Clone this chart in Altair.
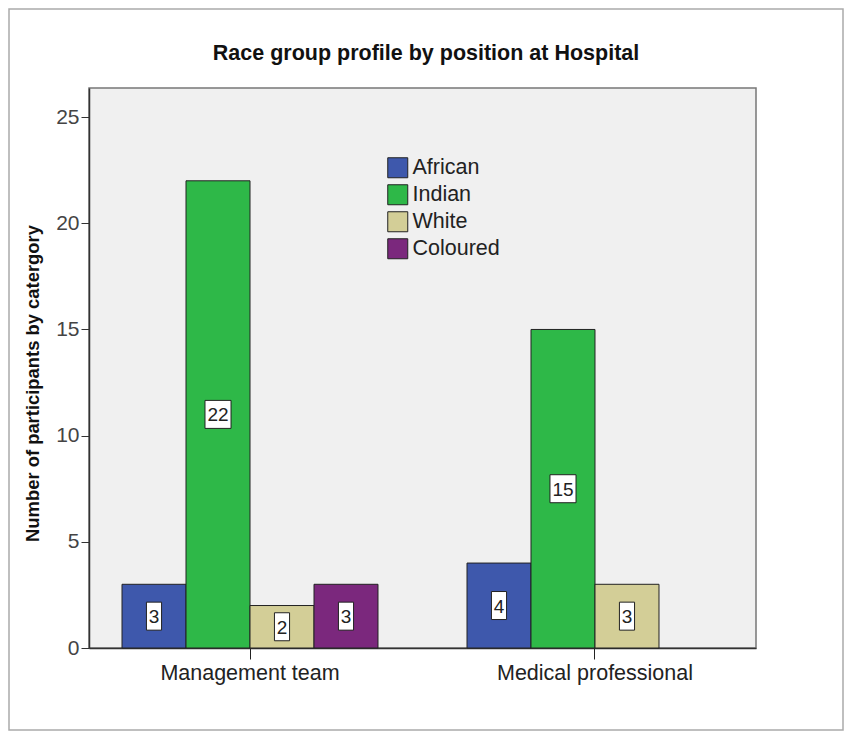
import altair as alt
import pandas as pd

title_text = "Race group profile by position at Hospital"
races = ["African", "Indian", "White", "Coloured"]
race_colors = ["#3E58AC", "#2EB848", "#D3CE97", "#7B287D"]
positions = ["Management team", "Medical professional"]
management_counts = [3, 22, 2, 3]
medical_counts = [4, 15, 3, None]

rows = []
for pos, counts in zip(positions, [management_counts, medical_counts]):
    for r, c in zip(races, counts):
        if c is not None:
            rows.append({"position": pos, "race": r, "count": c})
df = pd.DataFrame(rows)

FONT = "Liberation Sans"
W, H = 667, 560
Y_MAX = 26.37

x_enc = alt.X("position:N", sort=positions,
              scale=alt.Scale(paddingInner=0.258, paddingOuter=0.0957),
              axis=alt.Axis(title=None, labelAngle=0, labelFontSize=21.5,
                            labelColor="#222", labelFont=FONT, tickSize=11,
                            tickColor="#222", domainColor="#333", domainWidth=1.5,
                            labelPadding=3, labelLimit=400))
xoff = alt.XOffset("race:N", sort=races,
                   scale=alt.Scale(domain=races, paddingInner=0, paddingOuter=0))
y_enc = alt.Y("count:Q", scale=alt.Scale(domain=[0, Y_MAX], nice=False, zero=True),
              axis=alt.Axis(values=[0, 5, 10, 15, 20, 25], grid=False,
                            title="Number of participants by catergory",
                            titleFont=FONT, titleFontSize=18.4, titleFontWeight="bold",
                            titleColor="#111", titleAngle=-90, titleX=-57, titleY=295,
                            titleAlign="center", titleBaseline="middle",
                            labelFontSize=21, labelColor="#444", labelFont=FONT,
                            tickSize=8, tickColor="#333", labelPadding=2,
                            domainColor="#333", domainWidth=1.5))

bars = alt.Chart(df).mark_bar(stroke="#222", strokeWidth=1, opacity=1).encode(
    x=x_enc, xOffset=xoff, y=y_enc,
    color=alt.Color("race:N", sort=races,
                    scale=alt.Scale(domain=races, range=race_colors),
                    legend=alt.Legend(title=None, orient="none", legendX=298, legendY=69,
                                      symbolType="square", symbolSize=400,
                                      symbolStrokeColor="#222", symbolStrokeWidth=1,
                                      symbolOpacity=1, labelFontSize=21.5, labelFont=FONT,
                                      labelColor="#222", rowPadding=2, labelOffset=4)),
)

single = "M-0.54,-1L0.54,-1L0.54,1L-0.54,1Z"
double = "M-0.93,-1L0.93,-1L0.93,1L-0.93,1Z"

boxes = alt.Chart(df).transform_calculate(
    mid="datum.count / 2",
    box=f"datum.count >= 10 ? '{double}' : '{single}'"
).mark_point(filled=True, fill="white", stroke="#222", strokeWidth=1, opacity=1,
             size=784).encode(
    x=alt.X("position:N", sort=positions), xOffset=xoff,
    y=alt.Y("mid:Q"),
    shape=alt.Shape("box:N", scale=None),
)

texts = alt.Chart(df).transform_calculate(
    mid="datum.count / 2"
).mark_text(fontSize=19, font=FONT, color="#222", baseline="middle", dy=1).encode(
    x=alt.X("position:N", sort=positions), xOffset=xoff,
    y=alt.Y("mid:Q"),
    text=alt.Text("count:Q"),
)

one = pd.DataFrame({"f": [0]})
frame = alt.Chart(one).mark_rect(
    fill=None, stroke="#aaa", strokeWidth=1.5
).encode(x=alt.value(-80), x2=alt.value(754), y=alt.value(-79), y2=alt.value(642))

title = alt.Chart(one).mark_text(
    font=FONT, fontSize=21.5, fontWeight="bold", color="#111",
    align="center", baseline="alphabetic"
).encode(x=alt.value(337), y=alt.value(-28), text=alt.value(title_text))

chart = alt.layer(frame, bars, boxes, texts, title).properties(
    width=W, height=H, padding=0,
    background="white",
).configure_view(fill="#F0F0F0", stroke="#777", strokeWidth=1.5)

chart.save("out.html", embed_options={"renderer": "svg", "actions": False})
